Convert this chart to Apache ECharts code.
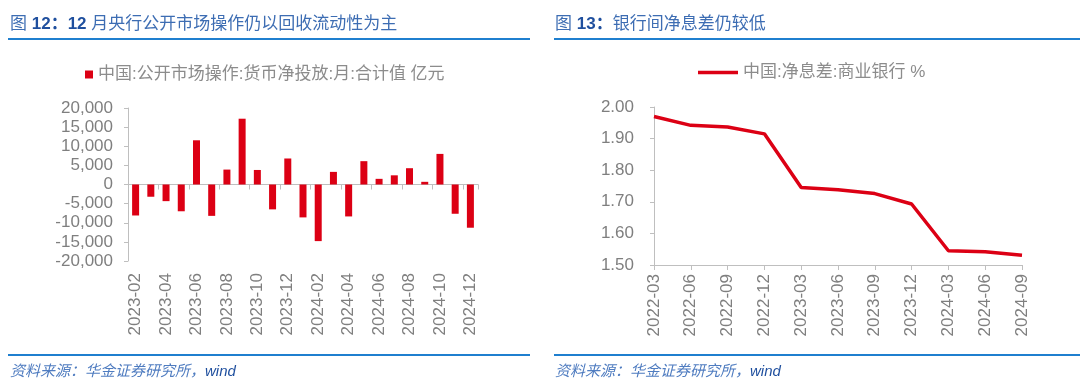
<!DOCTYPE html>
<html>
<head>
<meta charset="utf-8">
<script src="https://cdn.jsdelivr.net/npm/echarts@6/dist/echarts.min.js"></script>
<style>
html,body{margin:0;padding:0;background:#fff;}
#c{width:1080px;height:383px;}
</style>
</head>
<body>
<div id="c"></div>
<script>
// ---- data ----
const barMonths = ['2023-02','2023-03','2023-04','2023-05','2023-06','2023-07','2023-08','2023-09','2023-10','2023-11','2023-12',
  '2024-01','2024-02','2024-03','2024-04','2024-05','2024-06','2024-07','2024-08','2024-09','2024-10','2024-11','2024-12'];
const netInjection = [-8100,-3200,-4350,-7000,11560,-8200,3900,17200,3800,-6500,6800,
  -8600,-14800,3300,-8350,6100,1480,2400,4260,700,8000,-7650,-11300];
const barSeriesName = '中国:公开市场操作:货币净投放:月:合计值 亿元';

const nimQuarters = ['2022-03','2022-06','2022-09','2022-12','2023-03','2023-06','2023-09','2023-12','2024-03','2024-06','2024-09'];
const nimValues = [1.97,1.942,1.937,1.915,1.745,1.738,1.726,1.693,1.545,1.542,1.531];
const lineSeriesName = '中国:净息差:商业银行 %';

const leftTitleNum = '12：12';
const leftTitleText = ' 月央行公开市场操作仍以回收流动性为主';
const rightTitleNum = '13：';
const rightTitleText = '银行间净息差仍较低';
const sourceText = '资料来源：华金证券研究所，';
const sourceWind = 'wind';

// ---- chart ----
const FONT = '"Liberation Sans", Arial, "Noto Sans CJK SC", sans-serif';
const RED = '#dc0014';
const AXIS = '#bfbfbf';
const LABEL = '#7f7f7f';
const BLUE_LINE = '#1f7fcf';
const TITLE_BLUE = '#3d6db3';
const TITLE_BOLD = '#1f4f9e';

const chart = echarts.init(document.getElementById('c'), null, {renderer: 'canvas'});

function titleEl(x, num, txt) {
  return {
    type: 'text', left: x, top: 16,
    style: {
      text: '{a|图 }{b|' + num + '}{a|' + txt + '}',
      rich: {
        a: {fontSize: 17, fontFamily: FONT, fill: TITLE_BLUE, color: TITLE_BLUE},
        b: {fontSize: 17, fontFamily: FONT, fontWeight: 'bold', fill: TITLE_BOLD, color: TITLE_BOLD}
      }
    }
  };
}
function sourceEl(x) {
  return {
    type: 'text', left: x, top: 364,
    style: {
      text: '{a|' + sourceText + '}{b|' + sourceWind + '}',
      rich: {
        a: {fontSize: 15, fontFamily: FONT, fontStyle: 'italic', fill: '#4f7cc0', color: '#4f7cc0'},
        b: {fontSize: 15, fontFamily: FONT, fontStyle: 'italic', fill: '#1f4f9e', color: '#1f4f9e'}
      }
    }
  };
}

const option = {
  backgroundColor: '#ffffff',
  animation: false,
  textStyle: {fontFamily: FONT},
  graphic: [
    titleEl(10, leftTitleNum, leftTitleText),
    titleEl(555, rightTitleNum, rightTitleText),
    {type: 'rect', shape: {x: 8, y: 38, width: 522, height: 2}, style: {fill: BLUE_LINE}},
    {type: 'rect', shape: {x: 554, y: 38, width: 526, height: 2}, style: {fill: BLUE_LINE}},
    {type: 'rect', shape: {x: 8, y: 354, width: 522, height: 2}, style: {fill: BLUE_LINE}},
    {type: 'rect', shape: {x: 554, y: 354, width: 526, height: 2}, style: {fill: BLUE_LINE}},
    sourceEl(10),
    sourceEl(555)
  ],
  legend: [
    {
      data: [barSeriesName], left: 80, top: 61, icon: 'rect', itemWidth: 8, itemHeight: 8,
      textStyle: {fontSize: 17, color: '#8c8c8c', fontFamily: FONT}
    },
    {
      data: [lineSeriesName], left: 693, top: 59, icon: 'rect', itemWidth: 40, itemHeight: 3.5,
      textStyle: {fontSize: 17, color: '#8c8c8c', fontFamily: FONT}
    }
  ],
  grid: [
    {left: 128, top: 108, width: 350, height: 153, containLabel: false, outerBoundsMode: 'none'},
    {left: 654, top: 107, width: 368, height: 158, containLabel: false, outerBoundsMode: 'none'}
  ],
  xAxis: [
    {
      type: 'category', gridIndex: 0, data: barMonths, boundaryGap: true,
      axisLine: {onZero: true, lineStyle: {color: AXIS, width: 1}},
      axisTick: {show: true, interval: 1, length: 5, lineStyle: {color: AXIS}},
      axisLabel: {interval: 1, rotate: 90, margin: 12, fontSize: 17, color: LABEL, fontFamily: FONT}
    },
    {
      type: 'category', gridIndex: 1, data: nimQuarters, boundaryGap: false,
      axisLine: {lineStyle: {color: AXIS, width: 1}},
      axisTick: {show: true, interval: 0, length: 5, lineStyle: {color: AXIS}},
      axisLabel: {interval: 0, rotate: 90, margin: 9, fontSize: 17, color: LABEL, fontFamily: FONT}
    }
  ],
  yAxis: [
    {
      type: 'value', gridIndex: 0, min: -20000, max: 20000, interval: 5000,
      splitLine: {show: false},
      axisLine: {show: true, lineStyle: {color: AXIS}},
      axisTick: {show: true, length: 4, lineStyle: {color: AXIS}},
      axisLabel: {
        margin: 15, fontSize: 17, color: LABEL, fontFamily: FONT, hideOverlap: false,
        formatter: v => (v < 0 ? '-' : '') + Math.abs(v).toString().replace(/\B(?=(\d{3})+(?!\d))/g, ',')
      }
    },
    {
      type: 'value', gridIndex: 1, min: 1.5, max: 2.0, interval: 0.1,
      splitLine: {show: false},
      axisLine: {show: true, lineStyle: {color: AXIS}},
      axisTick: {show: true, length: 4, lineStyle: {color: AXIS}},
      axisLabel: {margin: 20, fontSize: 17, color: LABEL, fontFamily: FONT, formatter: v => v.toFixed(2)}
    }
  ],
  series: [
    {
      name: barSeriesName, type: 'bar', xAxisIndex: 0, yAxisIndex: 0,
      data: netInjection, barWidth: 7, itemStyle: {color: RED}
    },
    {
      name: lineSeriesName, type: 'line', xAxisIndex: 1, yAxisIndex: 1,
      data: nimValues, symbol: 'none', lineStyle: {color: RED, width: 3.5}, itemStyle: {color: RED}
    }
  ]
};
chart.setOption(option);
</script>
</body>
</html>
